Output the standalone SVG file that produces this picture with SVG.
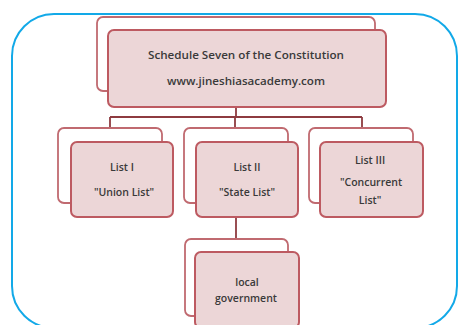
<svg xmlns="http://www.w3.org/2000/svg" width="459" height="325" viewBox="0 0 459 325">
  <style>
    .frame { fill: none; stroke: #12a9e8; stroke-width: 2; }
    .back { fill: #ffffff; stroke: #c06a70; stroke-width: 1.8; }
    .front { fill: #ecd6d7; stroke: #bd5a61; stroke-width: 2; }
    .conn { fill: none; stroke: #8e3b40; stroke-width: 1.8; }
    .t { font-family: "Open Sans", "Liberation Sans", Arial, sans-serif; font-weight: 600; font-size: 10px; fill: #3a3a3a; text-anchor: middle; }
    .l { font-size: 10.5px; }
  </style>
  <rect width="459" height="325" fill="#ffffff"/>
  <rect class="frame" x="12" y="14" width="445" height="314" rx="42" ry="42"/>

  <g id="connectors">
    <path class="conn" d="M236 107 V117 M110 117 H362 M110 117 V128 M235 117 V128 M362 117 V128"/>
    <path class="conn" d="M236 217 V239"/>
  </g>

  <g id="schedule">
    <rect class="back" x="97" y="17" width="278" height="74" rx="6"/>
    <rect class="front" x="108" y="30" width="278" height="77" rx="6"/>
    <text class="t" x="246" y="59" textLength="196" lengthAdjust="spacingAndGlyphs">Schedule Seven of the Constitution</text>
    <text class="t" x="246" y="85" textLength="158" lengthAdjust="spacingAndGlyphs">www.jineshiasacademy.com</text>
  </g>

  <g id="list1">
    <rect class="back" x="58" y="128" width="104" height="75" rx="6"/>
    <rect class="front" x="71" y="142" width="102" height="75" rx="6"/>
    <text class="t l" x="122" y="171">List I</text>
    <text class="t l" x="124" y="196">"Union List"</text>
  </g>

  <g id="list2">
    <rect class="back" x="184" y="128" width="104" height="75" rx="6"/>
    <rect class="front" x="196" y="142" width="102" height="75" rx="6"/>
    <text class="t l" x="247" y="171">List II</text>
    <text class="t l" x="247" y="196">"State List"</text>
  </g>

  <g id="list3">
    <rect class="back" x="309" y="128" width="104" height="75" rx="6"/>
    <rect class="front" x="320" y="142" width="103" height="75" rx="6"/>
    <text class="t l" x="370" y="164">List III</text>
    <text class="t l" x="371" y="186">"Concurrent</text>
    <text class="t l" x="370" y="204">List"</text>
  </g>

  <g id="local">
    <rect class="back" x="185" y="239" width="103" height="77" rx="6"/>
    <rect class="front" x="195" y="252" width="104" height="76" rx="6"/>
    <text class="t l" x="247" y="286">local</text>
    <text class="t l" x="246" y="302">government</text>
  </g>
</svg>
